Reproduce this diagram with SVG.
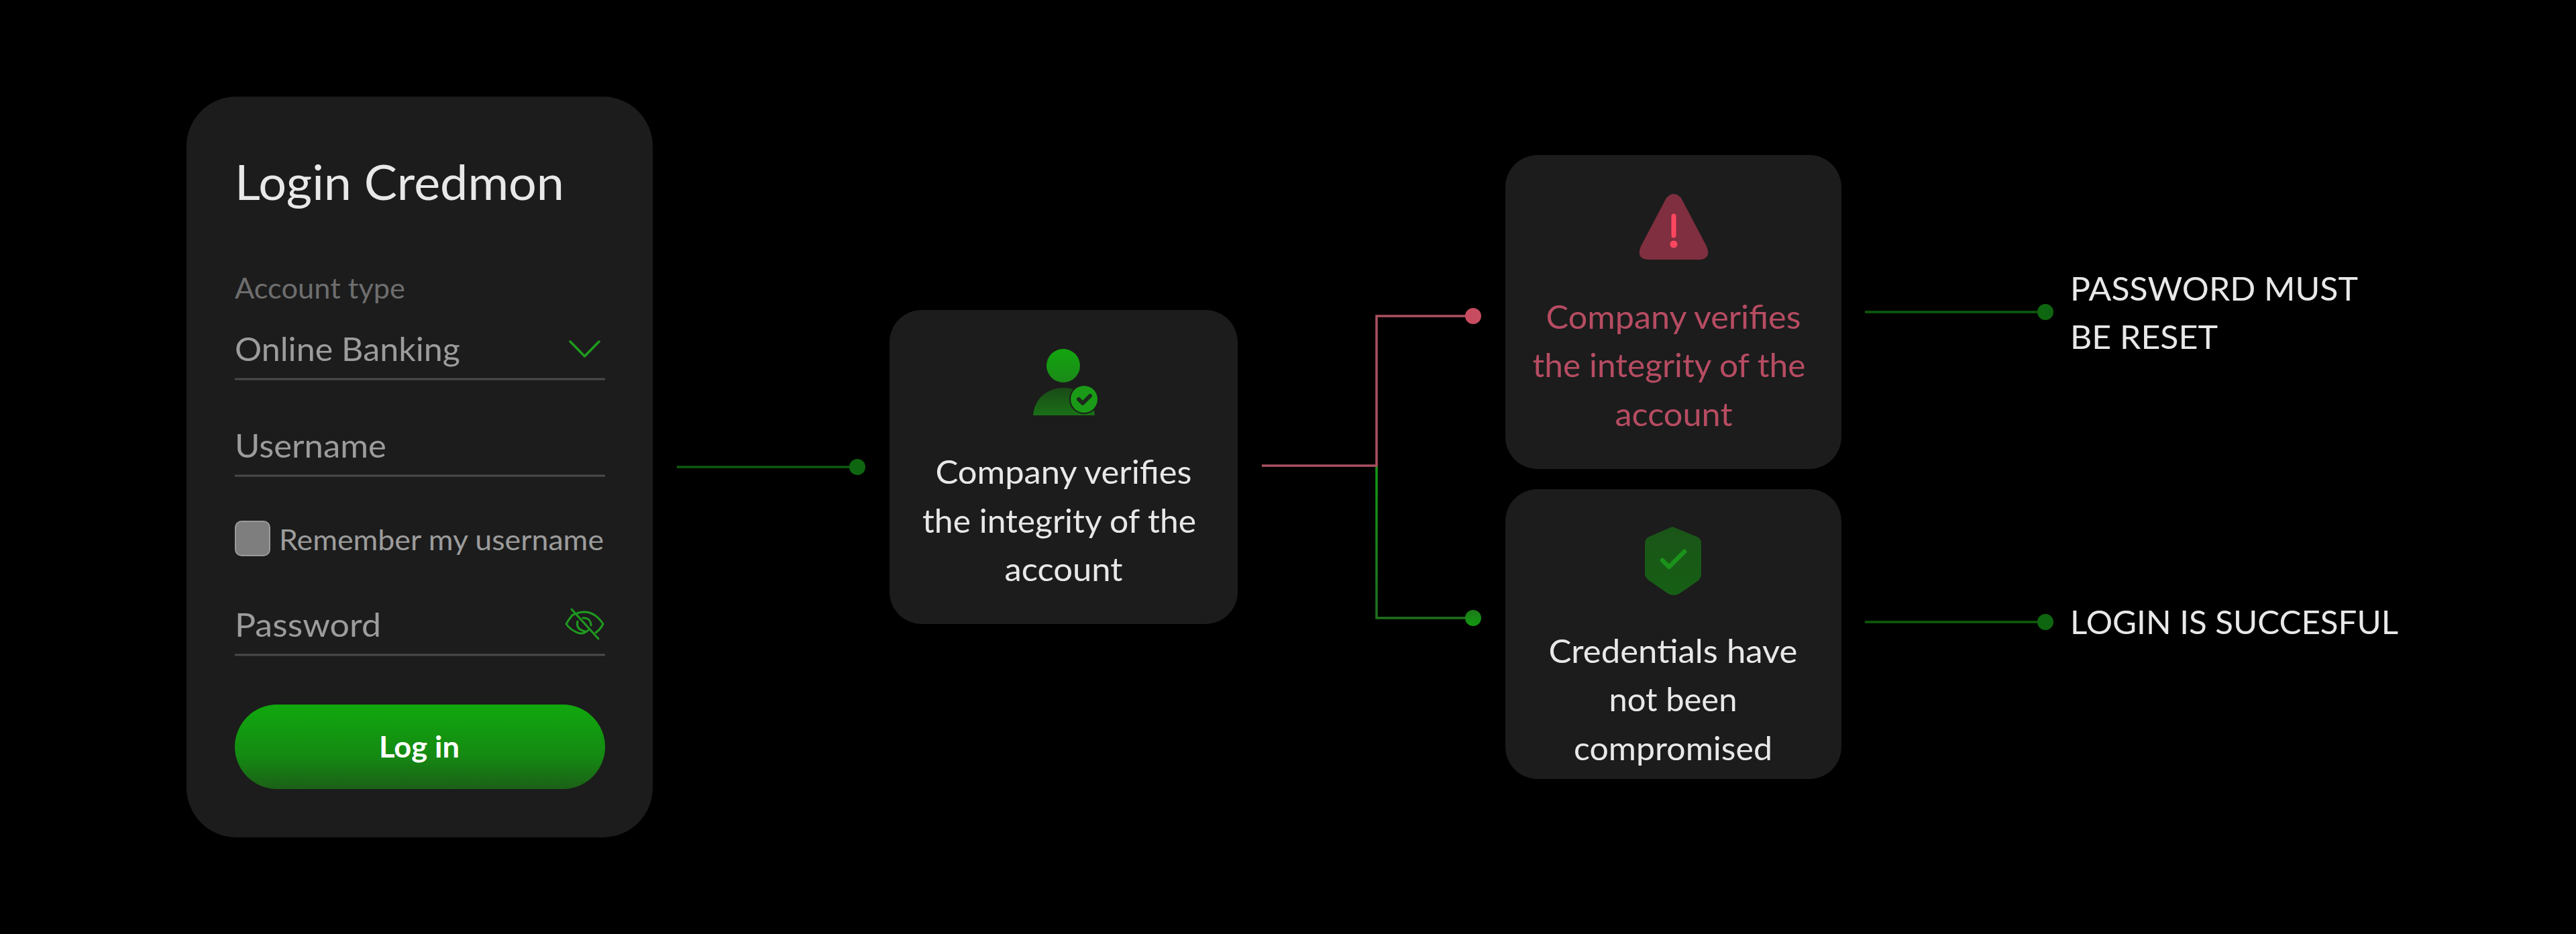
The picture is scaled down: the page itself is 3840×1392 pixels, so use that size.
<svg xmlns="http://www.w3.org/2000/svg" width="3840" height="1392" viewBox="0 0 3840 1392">
<defs>
<linearGradient id="btn" x1="0" y1="0" x2="0" y2="1"><stop offset="0" stop-color="#11a80e"/><stop offset="0.6" stop-color="#148a12"/><stop offset="1" stop-color="#1c6018"/></linearGradient>
<linearGradient id="head" x1="0" y1="0" x2="0" y2="1"><stop offset="0" stop-color="#12a50f"/><stop offset="1" stop-color="#1b8a18"/></linearGradient>
<linearGradient id="body" x1="0" y1="0" x2="0" y2="1"><stop offset="0" stop-color="#1a4a18"/><stop offset="1" stop-color="#1a7016"/></linearGradient>
<linearGradient id="shield" x1="0" y1="0" x2="0" y2="1"><stop offset="0" stop-color="#1a5518"/><stop offset="1" stop-color="#175f15"/></linearGradient>
<linearGradient id="dotg" x1="0" y1="0" x2="0" y2="1"><stop offset="0" stop-color="#1c7a1a"/><stop offset="1" stop-color="#129a10"/></linearGradient>
<linearGradient id="vg" gradientUnits="userSpaceOnUse" x1="0" y1="694" x2="0" y2="921"><stop offset="0" stop-color="#149a14"/><stop offset="1" stop-color="#1f6f1f"/></linearGradient>
</defs>
<style>
text{font-family:"Lato","Noto Sans","Liberation Sans",sans-serif;font-weight:400}
.card{fill:#1c1c1c}
.c{text-anchor:middle}
.w{fill:#e8e8e8;font-size:49px}
.r{fill:#b64c62;font-size:49px}
.g{fill:#9c9c9c;font-size:49px}
.rule{stroke:#4a4a4a;stroke-width:3;fill:none}
.ln{fill:none;stroke-width:3.5}
.dg{stroke:#0d5c0d}
.dot{fill:#0f6610}
.icon{fill:none;stroke:#1f9a1f;stroke-linecap:round;stroke-linejoin:round}
</style>
<rect width="3840" height="1392" fill="#000"/>
<g id="connectors">
<path class="ln dg" d="M1009 696H1278"/><circle class="dot" cx="1278" cy="696" r="12"/>
<path class="ln" stroke="url(#vg)" d="M2052 694V921H2196"/>
<path class="ln" stroke="#ac5062" d="M1881 694H2052V471H2196"/><circle fill="#c84c60" cx="2196" cy="471" r="12"/>
<circle fill="url(#dotg)" cx="2196" cy="921" r="12"/>
<path class="ln dg" d="M2780 465H3049"/><circle class="dot" cx="3049" cy="465" r="12"/>
<path class="ln dg" d="M2780 927H3049"/><circle class="dot" cx="3049" cy="927" r="12"/>
</g>
<g id="login-card">
<rect class="card" x="278" y="144" width="695" height="1104" rx="74"/>
<text x="350" y="298" font-size="72" fill="#e8e8e8" textLength="491" lengthAdjust="spacingAndGlyphs">Login Credmon</text>
<text x="350" y="445" font-size="43" fill="#6e6e6e" textLength="254" lengthAdjust="spacingAndGlyphs">Account type</text>
<text x="350" y="538" class="g" textLength="336" lengthAdjust="spacingAndGlyphs">Online Banking</text>
<path d="M850 509L871.500 531L893 509" class="icon" stroke-width="3.500"/>
<path class="rule" d="M350 565H902"/>
<text x="350" y="682" class="g" textLength="226" lengthAdjust="spacingAndGlyphs">Username</text>
<path class="rule" d="M350 709H902"/>
<rect x="351" y="777" width="51" height="51" rx="9" fill="#7e7e7e" stroke="#9a9a9a" stroke-width="2"/>
<text x="416" y="820" font-size="43" fill="#9c9c9c" textLength="484" lengthAdjust="spacingAndGlyphs">Remember my username</text>
<text x="350" y="949" class="g" textLength="218" lengthAdjust="spacingAndGlyphs">Password</text>
<g class="icon" stroke-width="3">
<path d="M853 917Q862 912 872 912Q888 913 899 930Q895 938 888 943"/>
<path d="M877 939Q868 948 857 941Q849 937 844 930Q848 923 853 917"/>
<path d="M869 921Q880 920 881 932M861 926Q858 938 872 941"/>
<path d="M852 908L892 952"/>
</g>
<path class="rule" d="M350 976H902"/>
<rect x="350" y="1050" width="552" height="126" rx="63" fill="url(#btn)"/>
<text x="625" y="1129" font-size="44" fill="#fff" style="font-weight:700" class="c" textLength="120" lengthAdjust="spacingAndGlyphs">Log in</text>
</g>
<g id="verify-card">
<rect class="card" x="1326" y="462" width="519" height="468" rx="48"/>
<circle cx="1585" cy="545" r="25" fill="url(#head)"/>
<path d="M1540 619C1542 595 1560 578 1586 578C1612 578 1630 595 1632 619Z" fill="url(#body)"/>
<circle cx="1616" cy="595" r="22" fill="#1c1c1c"/>
<circle cx="1616" cy="595" r="20" fill="#1a9a17"/>
<path d="M1608 595L1614 601L1625 590" fill="none" stroke="#1c2a1c" stroke-width="6" stroke-linecap="round" stroke-linejoin="round"/>
<text x="1585.500" y="721" class="w c" textLength="382" lengthAdjust="spacingAndGlyphs">Company verifies</text>
<text x="1579" y="794" class="w c" textLength="408" lengthAdjust="spacingAndGlyphs">the integrity of the</text>
<text x="1585.500" y="866" class="w c" textLength="176" lengthAdjust="spacingAndGlyphs">account</text>
</g>
<g id="alert-card">
<rect class="card" x="2244" y="231" width="501" height="468" rx="48"/>
<path d="M2484 295Q2495 283 2506 295L2544 367Q2552 387 2531 387H2459Q2438 387 2446 367Z" fill="#7f2f3f"/>
<path d="M2495 322V351" stroke="#ff4860" stroke-width="7" stroke-linecap="round"/>
<circle cx="2495" cy="364" r="5.500" fill="#ff4860"/>
<text x="2494.500" y="490" class="r c" textLength="380" lengthAdjust="spacingAndGlyphs">Company verifies</text>
<text x="2488" y="562" class="r c" textLength="407" lengthAdjust="spacingAndGlyphs">the integrity of the</text>
<text x="2495" y="635" class="r c" textLength="175" lengthAdjust="spacingAndGlyphs">account</text>
</g>
<g id="ok-card">
<rect class="card" x="2244" y="729" width="501" height="432" rx="48"/>
<path d="M2493 785L2530 800Q2536 803 2536 810V855Q2536 860 2532 865L2503 885Q2495 889 2487 885L2458 865Q2452 860 2452 855V810Q2452 803 2458 800Z" fill="url(#shield)"/>
<path d="M2478 835L2488 845L2511 822" fill="none" stroke="#1b931b" stroke-width="6.500" stroke-linecap="round" stroke-linejoin="round"/>
<text x="2494" y="988" class="w c" textLength="371" lengthAdjust="spacingAndGlyphs">Credentials have</text>
<text x="2494" y="1060" class="w c" textLength="191" lengthAdjust="spacingAndGlyphs">not been</text>
<text x="2494" y="1133" class="w c" textLength="296" lengthAdjust="spacingAndGlyphs">compromised</text>
</g>
<g id="outcome-reset">
<text x="3086" y="447.500" class="w" textLength="429" lengthAdjust="spacingAndGlyphs">PASSWORD MUST</text>
<text x="3086" y="520" class="w" textLength="220" lengthAdjust="spacingAndGlyphs">BE RESET</text>
</g>
<g id="outcome-success">
<text x="3086" y="945" class="w" textLength="489" lengthAdjust="spacingAndGlyphs">LOGIN IS SUCCESFUL</text>
</g>
</svg>
